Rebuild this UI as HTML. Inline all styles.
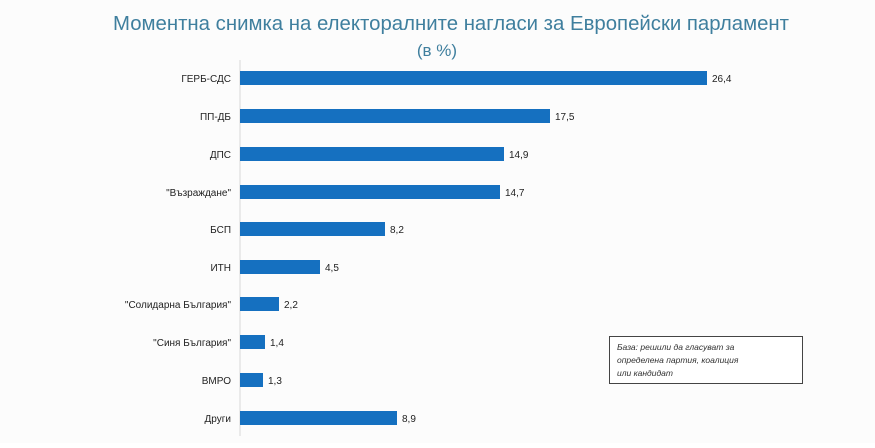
<!DOCTYPE html>
<html><head><meta charset="utf-8"><style>
body{margin:0;background:#fff;}
svg text{font-family:"Liberation Sans","DejaVu Sans",sans-serif;}
</style></head><body>
<svg width="875" height="443" viewBox="0 0 875 443" xmlns="http://www.w3.org/2000/svg">
<rect width="875" height="443" fill="#fcfcfc"/>
<text x="451" y="30" text-anchor="middle" font-size="20.5" fill="#3f7f9e" textLength="676" lengthAdjust="spacingAndGlyphs">Моментна снимка на електоралните нагласи за Европейски парламент</text>
<text x="437" y="56" text-anchor="middle" font-size="17" fill="#3f7f9e">(в %)</text>
<line x1="240" y1="60" x2="240" y2="436" stroke="#d8d8d8" stroke-width="1"/>
<g fill="#1570c0">
<rect x="240" y="71" width="467" height="14"/>
<rect x="240" y="109" width="310" height="14"/>
<rect x="240" y="147" width="264" height="14"/>
<rect x="240" y="185" width="260" height="14"/>
<rect x="240" y="222" width="145" height="14"/>
<rect x="240" y="260" width="80" height="14"/>
<rect x="240" y="297" width="39" height="14"/>
<rect x="240" y="335" width="25" height="14"/>
<rect x="240" y="373" width="23" height="14"/>
<rect x="240" y="411" width="157" height="14"/>
</g>
<g font-size="10" fill="#222" text-anchor="end">
<text x="231" y="82">ГЕРБ-СДС</text>
<text x="231" y="120">ПП-ДБ</text>
<text x="231" y="158">ДПС</text>
<text x="231" y="196">"Възраждане"</text>
<text x="231" y="233">БСП</text>
<text x="231" y="271">ИТН</text>
<text x="231" y="308">"Солидарна България"</text>
<text x="231" y="346">"Синя България"</text>
<text x="231" y="384">ВМРО</text>
<text x="231" y="422">Други</text>
</g>
<g font-size="10" fill="#222">
<text x="712" y="82">26,4</text>
<text x="555" y="120">17,5</text>
<text x="509" y="158">14,9</text>
<text x="505" y="196">14,7</text>
<text x="390" y="233">8,2</text>
<text x="325" y="271">4,5</text>
<text x="284" y="308">2,2</text>
<text x="270" y="346">1,4</text>
<text x="268" y="384">1,3</text>
<text x="402" y="422">8,9</text>
</g>
<rect x="609.5" y="336.5" width="193" height="47" fill="#fff" stroke="#444" stroke-width="1"/>
<g font-size="8.5" fill="#333" font-style="italic">
<text x="617" y="350">База: решили да гласуват за</text>
<text x="617" y="363">определена партия, коалиция</text>
<text x="617" y="376">или кандидат</text>
</g>
</svg>
</body></html>
